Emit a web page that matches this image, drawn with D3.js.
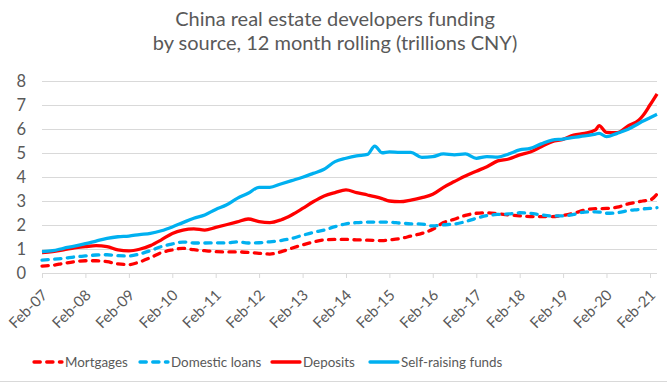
<!DOCTYPE html>
<html>
<head>
<meta charset="utf-8">
<script src="https://cdn.jsdelivr.net/npm/d3@7"></script>
<style>
  html, body { margin: 0; padding: 0; background: #fff; }
  svg { display: block; }
  text { font-family: Lato, "Open Sans", sans-serif; fill: #595959; }
</style>
</head>
<body>
<svg id="chart" width="667" height="387"></svg>
<script>
// ---- data ----
const months = [
  "2007-02","2007-05","2007-08","2007-11",
  "2008-02","2008-05","2008-08","2008-11",
  "2009-02","2009-05","2009-08","2009-11",
  "2010-02","2010-05","2010-08","2010-11",
  "2011-02","2011-05","2011-08","2011-11",
  "2012-02","2012-05","2012-08","2012-11",
  "2013-02","2013-05","2013-08","2013-11",
  "2014-02","2014-05","2014-08","2014-10","2014-12",
  "2015-02","2015-05","2015-08","2015-11",
  "2016-02","2016-05","2016-08","2016-11",
  "2017-02","2017-05","2017-08","2017-11",
  "2018-02","2018-05","2018-08","2018-11",
  "2019-02","2019-05","2019-08","2019-11","2019-12",
  "2020-02","2020-05","2020-08","2020-11","2020-12",
  "2021-02","2021-04"
];

const mortgages = [
  0.29,0.32,0.40,0.47,
  0.51,0.51,0.47,0.38,
  0.35,0.46,0.64,0.85,
  0.96,1.03,0.97,0.93,
  0.89,0.88,0.88,0.86,
  0.82,0.79,0.88,1.03,
  1.17,1.29,1.38,1.40,
  1.40,1.38,1.37,1.36,1.35,
  1.38,1.43,1.54,1.65,
  1.82,2.10,2.24,2.40,
  2.49,2.51,2.47,2.42,
  2.38,2.35,2.35,2.35,
  2.40,2.49,2.62,2.68,2.68,
  2.69,2.74,2.88,2.97,3.00,
  3.04,3.29
];

const domesticLoans = [
  0.54,0.57,0.61,0.67,
  0.71,0.75,0.76,0.72,
  0.71,0.79,0.93,1.10,
  1.21,1.29,1.25,1.25,
  1.26,1.25,1.30,1.25,
  1.26,1.30,1.35,1.44,
  1.57,1.69,1.79,1.93,
  2.05,2.10,2.12,2.12,2.12,
  2.12,2.08,2.05,2.04,
  1.96,2.01,2.04,2.14,
  2.28,2.39,2.44,2.46,
  2.51,2.49,2.42,2.38,
  2.38,2.44,2.54,2.55,2.54,
  2.49,2.51,2.60,2.65,2.67,
  2.69,2.72
];

const deposits = [
  0.85,0.89,0.96,1.05,
  1.10,1.14,1.10,0.96,
  0.92,0.99,1.14,1.38,
  1.65,1.79,1.84,1.79,
  1.90,2.01,2.13,2.25,
  2.14,2.10,2.21,2.42,
  2.69,2.97,3.21,3.35,
  3.46,3.35,3.25,3.18,3.10,
  3.00,2.97,3.04,3.14,
  3.28,3.57,3.81,4.04,
  4.24,4.43,4.67,4.75,
  4.92,5.04,5.26,5.47,
  5.57,5.75,5.82,5.96,6.14,
  5.86,5.85,6.13,6.38,6.54,
  7.00,7.46
];

const selfRaising = [
  0.89,0.93,1.03,1.12,
  1.22,1.33,1.44,1.51,
  1.54,1.60,1.65,1.76,
  1.92,2.10,2.28,2.42,
  2.65,2.83,3.11,3.32,
  3.57,3.57,3.71,3.85,
  3.99,4.15,4.32,4.64,
  4.78,4.88,4.94,5.29,5.01,
  5.05,5.03,5.03,4.82,
  4.85,4.96,4.92,4.96,
  4.78,4.85,4.83,4.96,
  5.13,5.19,5.38,5.54,
  5.58,5.65,5.71,5.79,5.82,
  5.68,5.82,5.99,6.24,6.32,
  6.47,6.61
];

const yTicks = [0,1,2,3,4,5,6,7,8];
const xTickLabels = ["Feb-07","Feb-08","Feb-09","Feb-10","Feb-11","Feb-12","Feb-13",
  "Feb-14","Feb-15","Feb-16","Feb-17","Feb-18","Feb-19","Feb-20","Feb-21"];
const seriesNames = ["Mortgages","Domestic loans","Deposits","Self-raising funds"];
const titleLines = ["China real estate developers funding",
  "by source, 12 month rolling (trillions CNY)"];

(function () {
// ---- layout ----
const svg = d3.select("#chart");
const W = 667, H = 387;
const pLeft = 42, pRight = 657, pTop = 81, pBottom = 273;
const parse = d3.timeParse("%Y-%m");
const dates = months.map(parse);

const x = d3.scaleTime()
  .domain([parse("2007-02"), parse("2021-04")])
  .range([pLeft, pRight]);
const y = d3.scaleLinear().domain([0, 8]).range([pBottom, pTop]);

const RED = "#ff0000", BLUE = "#00b0f0";
const DASH = "6.3,6.4";
const styles = [
  {color: RED, dash: DASH},
  {color: BLUE, dash: DASH},
  {color: RED, dash: null},
  {color: BLUE, dash: null}
];
const seriesData = [mortgages, domesticLoans, deposits, selfRaising];

// title
svg.append("g").selectAll("text").data(titleLines).join("text")
  .attr("x", 335).attr("y", (d, i) => 26 + i * 24)
  .attr("text-anchor", "middle")
  .style("font-size", "20px")
  .text(d => d);

// gridlines
svg.append("g").selectAll("line").data(yTicks.filter(d => d > 0)).join("line")
  .attr("x1", pLeft).attr("x2", pRight)
  .attr("y1", d => Math.round(y(d)) + 0.5).attr("y2", d => Math.round(y(d)) + 0.5)
  .attr("stroke", "#d9d9d9").attr("stroke-width", 1);

// y axis labels
const yAxis = d3.axisLeft(y).tickValues(yTicks).tickSize(0).tickPadding(16).tickFormat(d3.format("d"));
const gy = svg.append("g").attr("transform", `translate(${pLeft},0)`).call(yAxis);
gy.select(".domain").remove();
gy.selectAll("text").style("font-size", "16.5px").style("font-family", "Lato, sans-serif").attr("fill", "#595959");

// x axis
const xTickDates = xTickLabels.map((d, i) => parse((2007 + i) + "-02"));
const xAxis = d3.axisBottom(x).tickValues(xTickDates).tickSize(5)
  .tickFormat((d, i) => xTickLabels[i]);
const gx = svg.append("g").attr("transform", `translate(0,${pBottom})`).call(xAxis);
gx.select(".domain").attr("stroke", "#d9d9d9").attr("d", `M${pLeft},0.5H${pRight}`);
gx.selectAll(".tick line").attr("stroke", "#d9d9d9");
gx.selectAll(".tick text")
  .style("font-size", "15px").style("font-family", "Lato, sans-serif").attr("fill", "#595959")
  .attr("text-anchor", "end")
  .attr("dy", null)
  .attr("y", 0)
  .attr("transform", "translate(6,23) rotate(-45)");

// lines
const line = d3.line()
  .x((d, i) => x(dates[i]))
  .y(d => y(d))
  .curve(d3.curveMonotoneX);

svg.append("g").selectAll("path").data(seriesData).join("path")
  .attr("d", d => line(d))
  .attr("fill", "none")
  .attr("stroke", (d, i) => styles[i].color)
  .attr("stroke-width", 3.3)
  .attr("stroke-linecap", (d, i) => styles[i].dash ? "round" : "butt")
  .attr("stroke-linejoin", "round")
  .attr("stroke-dasharray", (d, i) => styles[i].dash);

// legend
const legendX = [34, 140, 272, 370];
const lg = svg.append("g").attr("transform", "translate(0,362)");
const items = lg.selectAll("g").data(seriesNames).join("g")
  .attr("transform", (d, i) => `translate(${legendX[i]},0)`);
items.append("line")
  .attr("x1", 0).attr("x2", 28).attr("y1", 0).attr("y2", 0)
  .attr("stroke", (d, i) => styles[i].color)
  .attr("stroke-width", 3.3)
  .attr("stroke-linecap", "round")
  .attr("stroke-dasharray", (d, i) => styles[i].dash);
items.append("text")
  .attr("x", 31).attr("y", 0).attr("dy", "0.35em")
  .style("font-size", "13.4px")
  .text(d => d);

// chart border bottom
svg.append("line").attr("x1", 0).attr("x2", W).attr("y1", 381.5).attr("y2", 381.5)
  .attr("stroke", "#d9d9d9");
})();
</script>
</body>
</html>
